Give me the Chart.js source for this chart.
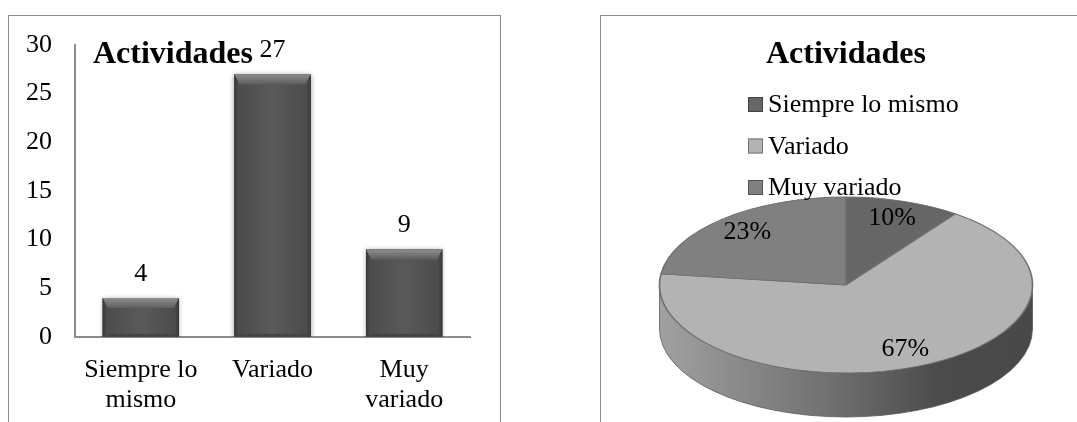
<!DOCTYPE html>
<html>
<head>
<meta charset="utf-8">
<script src="https://cdn.jsdelivr.net/npm/chart.js@4.4.1/dist/chart.umd.min.js"></script>
<style>
  html, body { margin: 0; padding: 0; background: #fff; width: 1077px; height: 422px; overflow: hidden; }
  .frame { position: absolute; border: 1px solid #8c8c8c; border-bottom: none; }
  #barFrame { left: 8px; top: 15px; width: 491px; height: 420px; }
  #pieFrame { left: 600px; top: 15px; width: 490px; height: 420px; border-right: none; }
  canvas { position: absolute; }
  #bar { left: 0; top: 0; }
  #pie { left: 615px; top: 0; }
</style>
</head>
<body>
<div class="frame" id="barFrame"></div>
<div class="frame" id="pieFrame"></div>
<canvas id="bar" width="510" height="422"></canvas>
<canvas id="pie" width="462" height="422"></canvas>
<script>
// ---- data ----
const chartTitle = 'Actividades';
const categories = ['Siempre lo mismo', 'Variado', 'Muy variado'];
const categoryLines = [['Siempre lo', 'mismo'], 'Variado', ['Muy', 'variado']];
const counts = [4, 27, 9];
const shares = [10, 67, 23];
const yMax = 30;
const yStep = 5;

// ---- styling ----
const FONT = "'Liberation Serif', 'Times New Roman', serif";
const sliceColors = ['#666666', '#b3b3b3', '#808080'];
const barColor = '#585858';

function shade(hex, f) {
  const n = parseInt(hex.slice(1), 16);
  const r = (n >> 16) & 255, g = (n >> 8) & 255, b = n & 255;
  return `rgb(${Math.round(r * f)},${Math.round(g * f)},${Math.round(b * f)})`;
}

// bevelled look for the columns, plus a soft drop shadow
const barBevel = {
  id: 'barBevel',
  beforeDatasetsDraw(chart) {
    const ctx = chart.ctx;
    ctx.save();
    ctx.shadowColor = 'rgba(0,0,0,0.4)';
    ctx.shadowBlur = 5;
    ctx.shadowOffsetY = 1;
  },
  afterDatasetsDraw(chart) {
    const ctx = chart.ctx;
    ctx.restore();
    chart.getDatasetMeta(0).data.forEach(bar => {
      const { x, y, base, width } = bar.getProps(['x', 'y', 'base', 'width'], true);
      const L = x - width / 2, R = x + width / 2, T = y, B = base;
      const bev = Math.min(10, (B - T) / 3);
      const s = 5;
      // face
      const face = ctx.createLinearGradient(L, 0, R, 0);
      face.addColorStop(0, '#4a4a4a');
      face.addColorStop(0.5, '#5a5a5a');
      face.addColorStop(1, '#4a4a4a');
      ctx.fillStyle = face;
      ctx.fillRect(L, T, R - L, B - T);
      // top bevel
      const top = ctx.createLinearGradient(0, T, 0, T + bev);
      top.addColorStop(0, '#8e8e8e');
      top.addColorStop(1, '#5e5e5e');
      ctx.fillStyle = top;
      ctx.beginPath();
      ctx.moveTo(L, T); ctx.lineTo(R, T); ctx.lineTo(R - s, T + bev); ctx.lineTo(L + s, T + bev);
      ctx.closePath(); ctx.fill();
      // left edge
      const le = ctx.createLinearGradient(L, 0, L + s, 0);
      le.addColorStop(0, '#383838'); le.addColorStop(1, '#505050');
      ctx.fillStyle = le;
      ctx.beginPath();
      ctx.moveTo(L, T); ctx.lineTo(L + s, T + bev); ctx.lineTo(L + s, B - 3); ctx.lineTo(L, B);
      ctx.closePath(); ctx.fill();
      // right edge
      const re = ctx.createLinearGradient(R - s, 0, R, 0);
      re.addColorStop(0, '#505050'); re.addColorStop(1, '#383838');
      ctx.fillStyle = re;
      ctx.beginPath();
      ctx.moveTo(R, T); ctx.lineTo(R - s, T + bev); ctx.lineTo(R - s, B - 3); ctx.lineTo(R, B);
      ctx.closePath(); ctx.fill();
      // bottom edge
      ctx.fillStyle = '#444444';
      ctx.beginPath();
      ctx.moveTo(L, B); ctx.lineTo(L + s, B - 3); ctx.lineTo(R - s, B - 3); ctx.lineTo(R, B);
      ctx.closePath(); ctx.fill();
    });
  }
};

// value above each column
const barValues = {
  id: 'barValues',
  afterDatasetsDraw(chart) {
    const ctx = chart.ctx;
    const ds = chart.data.datasets[0];
    ctx.save();
    ctx.font = `26px ${FONT}`;
    ctx.fillStyle = '#000';
    ctx.textAlign = 'center';
    ctx.textBaseline = 'alphabetic';
    chart.getDatasetMeta(0).data.forEach((bar, i) => {
      ctx.fillText(String(ds.data[i]), bar.x, bar.y - 17);
    });
    ctx.restore();
  }
};

// title sitting inside the plot area, top-left
const barTitle = {
  id: 'barTitle',
  afterDraw(chart) {
    const { ctx, chartArea } = chart;
    ctx.save();
    ctx.font = `bold 32px ${FONT}`;
    ctx.fillStyle = '#000';
    ctx.textAlign = 'left';
    ctx.textBaseline = 'alphabetic';
    ctx.fillText(chartTitle, chartArea.left + 18, chartArea.top + 18);
    ctx.restore();
  }
};

new Chart(document.getElementById('bar'), {
  type: 'bar',
  data: {
    labels: categoryLines,
    datasets: [{
      data: counts,
      backgroundColor: barColor,
      borderWidth: 0,
      barPercentage: 0.58,
      categoryPercentage: 1
    }]
  },
  options: {
    responsive: false,
    animation: false,
    events: [],
    layout: { padding: { top: 45, right: 40, left: 0, bottom: 0 } },
    plugins: { legend: { display: false }, tooltip: { enabled: false } },
    scales: {
      x: {
        grid: { display: false, drawTicks: false },
        border: { display: true, color: '#8c8c8c', width: 2 },
        ticks: {
          color: '#000',
          font: { family: FONT, size: 26, lineHeight: 1.15 },
          padding: 18,
          maxRotation: 0,
          autoSkip: false
        },
        afterFit(s) { s.height = 85; }
      },
      y: {
        min: 0,
        max: yMax,
        grid: { display: false, drawTicks: false },
        border: { display: true, color: '#8c8c8c', width: 2 },
        ticks: {
          stepSize: yStep,
          color: '#000',
          font: { family: FONT, size: 26 },
          padding: 23
        },
        afterFit(s) { s.width = 75; }
      }
    }
  },
  plugins: [barBevel, barValues, barTitle]
});

// ---- tilted pie ----
const TILT = 88 / 186.5;        // vertical squash of the top face
const DEPTH = 44 / 186.5;       // thickness of the disc, relative to its radius
const LABEL_RADIUS = 0.8;

const pie3d = {
  id: 'pie3d',
  beforeDatasetsDraw(chart) {
    const { ctx, chartArea: ca } = chart;
    const arcs = chart.getDatasetMeta(0).data;
    const colors = chart.data.datasets[0].backgroundColor;
    const rx = ca.width / 2, ry = rx * TILT, depth = rx * DEPTH;
    const cx = (ca.left + ca.right) / 2, cy = ca.bottom - depth - ry;
    chart.$tilt = { cx, cy, rx, ry, depth };

    // side wall of the front half
    arcs.forEach((arc, i) => {
      const { startAngle, endAngle } = arc.getProps(['startAngle', 'endAngle'], true);
      for (let k = -1; k <= 1; k++) {
        const s = Math.max(startAngle, 2 * Math.PI * k);
        const e = Math.min(endAngle, Math.PI + 2 * Math.PI * k);
        if (e <= s) continue;
        const g = ctx.createLinearGradient(cx - rx, 0, cx + rx, 0);
        g.addColorStop(0, shade(colors[i], 0.9));
        g.addColorStop(0.5, shade(colors[i], 0.6));
        g.addColorStop(0.75, shade(colors[i], 0.42));
        g.addColorStop(1, shade(colors[i], 0.4));
        ctx.beginPath();
        ctx.ellipse(cx, cy, rx, ry, 0, s, e);
        ctx.lineTo(cx + rx * Math.cos(e), cy + ry * Math.sin(e) + depth);
        ctx.ellipse(cx, cy + depth, rx, ry, 0, e, s, true);
        ctx.closePath();
        ctx.fillStyle = g;
        ctx.fill();
        ctx.strokeStyle = '#5a5a5a';
        ctx.lineWidth = 0.8;
        ctx.stroke();
      }
    });

    // squash the library's arcs onto the tilted top face
    const a0 = arcs[0];
    const R = a0.outerRadius;
    ctx.save();
    ctx.translate(cx, cy);
    ctx.scale(rx / R, ry / R);
    ctx.translate(-a0.x, -a0.y);
  },
  afterDatasetsDraw(chart) {
    const ctx = chart.ctx;
    ctx.restore();
    const { cx, cy, rx, ry } = chart.$tilt;
    const ds = chart.data.datasets[0];
    ctx.save();
    ctx.font = `26px ${FONT}`;
    ctx.fillStyle = '#000';
    ctx.textAlign = 'center';
    ctx.textBaseline = 'middle';
    chart.getDatasetMeta(0).data.forEach((arc, i) => {
      const { startAngle, endAngle } = arc.getProps(['startAngle', 'endAngle'], true);
      const mid = (startAngle + endAngle) / 2;
      const px = cx + rx * LABEL_RADIUS * Math.cos(mid);
      const py = cy + ry * LABEL_RADIUS * Math.sin(mid);
      ctx.fillText(ds.data[i] + '%', px, py);
    });
    ctx.restore();
  }
};

// stacked legend under the title
const LEGEND_LEFT = 133;
const LEGEND_BASELINE = 112;
const LEGEND_STEP = 41.5;
const pieLegend = {
  id: 'pieLegend',
  afterDraw(chart) {
    const ctx = chart.ctx;
    const colors = chart.data.datasets[0].backgroundColor;
    ctx.save();
    ctx.font = `26px ${FONT}`;
    ctx.textAlign = 'left';
    ctx.textBaseline = 'alphabetic';
    chart.data.labels.forEach((lbl, i) => {
      const yb = LEGEND_BASELINE + i * LEGEND_STEP;
      ctx.fillStyle = colors[i];
      ctx.fillRect(LEGEND_LEFT, yb - 15, 15, 15);
      ctx.strokeStyle = shade(colors[i], 0.65);
      ctx.lineWidth = 1;
      ctx.strokeRect(LEGEND_LEFT + 0.5, yb - 14.5, 14, 14);
      ctx.fillStyle = '#000';
      ctx.fillText(lbl, LEGEND_LEFT + 20, yb);
    });
    ctx.restore();
  }
};

new Chart(document.getElementById('pie'), {
  type: 'pie',
  data: {
    labels: categories,
    datasets: [{
      data: shares,
      backgroundColor: sliceColors,
      borderColor: '#707070',
      borderWidth: 1.5,
      clip: false
    }]
  },
  options: {
    responsive: false,
    animation: false,
    events: [],
    layout: { padding: { left: 44.5, right: 44.5, top: 0, bottom: 5 } },
    plugins: {
      legend: { display: false },
      tooltip: { enabled: false },
      title: {
        display: true,
        text: chartTitle,
        color: '#000',
        font: { family: FONT, size: 32, weight: 'bold' },
        padding: { top: 36, bottom: 10 }
      }
    }
  },
  plugins: [pie3d, pieLegend]
});
</script>
</body>
</html>
